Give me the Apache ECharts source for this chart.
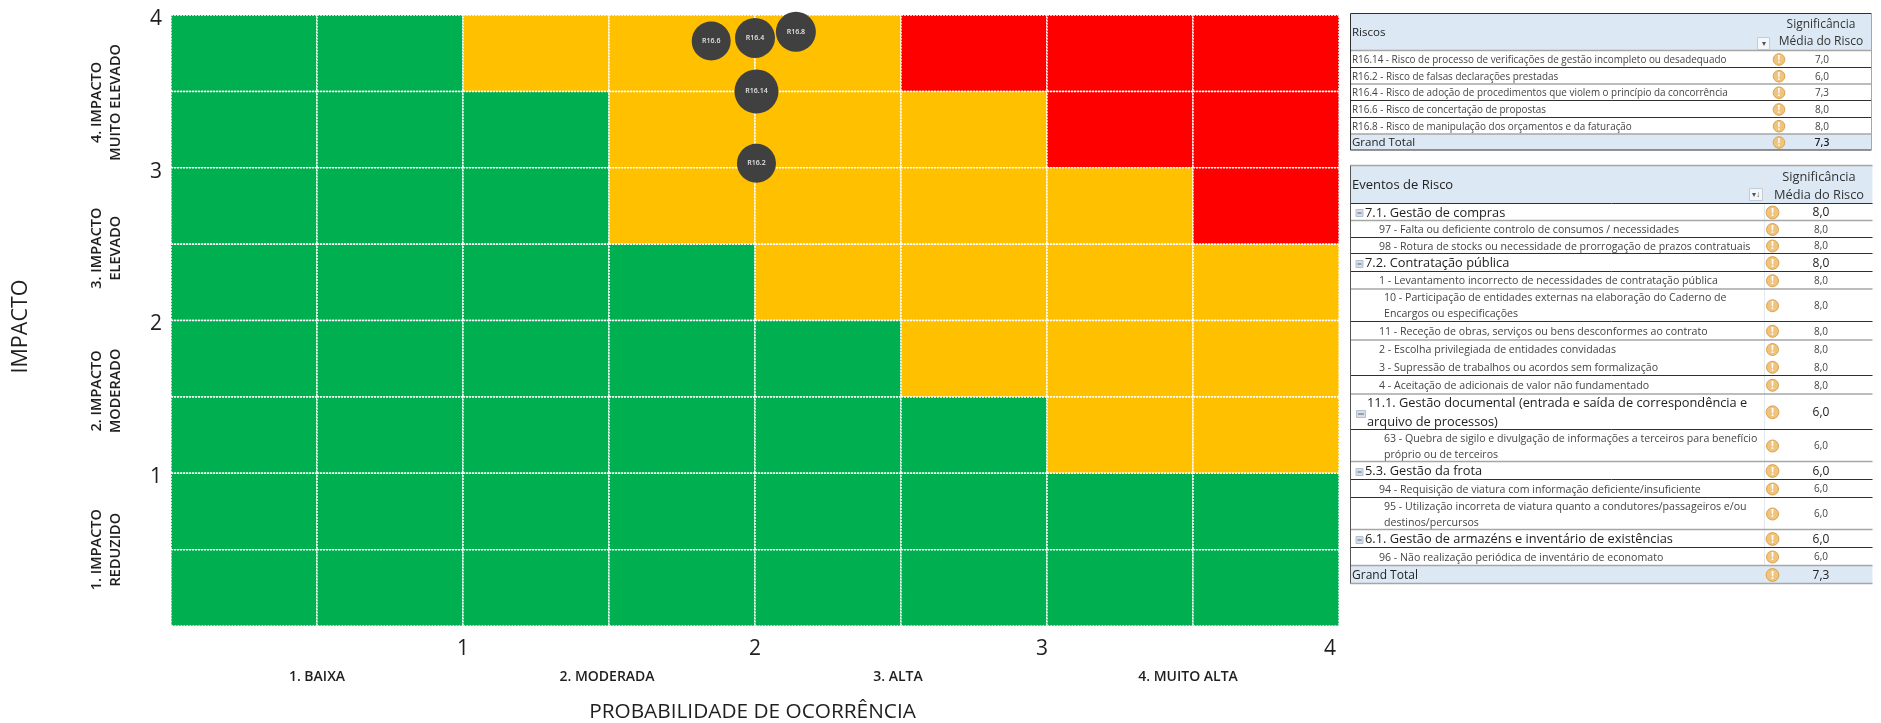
<!DOCTYPE html>
<html>
<head>
<meta charset="utf-8">
<title>Matriz de risco</title>
<script src="https://cdn.jsdelivr.net/npm/echarts@6/dist/echarts.min.js"></script>
<style>
  html, body { margin: 0; padding: 0; background: #fff; }
  #chart { width: 1881px; height: 723px; }
</style>
</head>
<body>
<div id="chart"></div>
<script>
// Risk levels per half-unit cell, from the top row down: 0 low, 1 medium, 2 high
const cellLevels = [
  [0, 0, 1, 1, 1, 2, 2, 2],
  [0, 0, 0, 1, 1, 1, 2, 2],
  [0, 0, 0, 1, 1, 1, 1, 2],
  [0, 0, 0, 0, 1, 1, 1, 1],
  [0, 0, 0, 0, 0, 1, 1, 1],
  [0, 0, 0, 0, 0, 0, 1, 1],
  [0, 0, 0, 0, 0, 0, 0, 0],
  [0, 0, 0, 0, 0, 0, 0, 0]
];
const levelColors = ['#00B050', '#FFC000', '#FF0000'];

// Risks placed on the matrix
const bubbleNames = ['R16.6', 'R16.4', 'R16.8', 'R16.14', 'R16.2'];
const bubbleProbability = [1.85, 2.0, 2.14, 2.005, 2.005];
const bubbleImpact = [3.83, 3.85, 3.89, 3.5, 3.03];
const bubbleWeight = [39, 40, 40, 44, 39];

const probabilityLabels = ['1. BAIXA', '2. MODERADA', '3. ALTA', '4. MUITO ALTA'];
const impactLabels = ['1. IMPACTO\nREDUZIDO', '2. IMPACTO\nMODERADO', '3. IMPACTO\nELEVADO', '4. IMPACTO\nMUITO ELEVADO'];

// Risk summary table
const riskLabels = [
  'R16.14 - Risco de processo de verificações de gestão incompleto ou desadequado',
  'R16.2 - Risco de falsas declarações prestadas',
  'R16.4 - Risco de adoção de procedimentos que violem o princípio da concorrência',
  'R16.6 - Risco de concertação de propostas',
  'R16.8 - Risco de manipulação dos orçamentos e da faturação',
  'Grand Total'
];
const riskValues = [7.0, 6.0, 7.3, 8.0, 8.0, 7.3];

// Risk event table; groups carry the larger type, items are indented
const eventLabels = [
  '7.1. Gestão de compras',
  '97 - Falta ou deficiente controlo de consumos / necessidades',
  '98 - Rotura de stocks ou necessidade de prorrogação de prazos contratuais',
  '7.2. Contratação pública',
  '1 - Levantamento incorrecto de necessidades de contratação pública',
  '10 - Participação de entidades externas na elaboração do Caderno de\nEncargos ou especificações',
  '11 - Receção de obras, serviços ou bens desconformes ao contrato',
  '2 - Escolha privilegiada de entidades convidadas',
  '3 - Supressão de trabalhos ou acordos sem formalização',
  '4 - Aceitação de adicionais de valor não fundamentado',
  '11.1. Gestão documental (entrada e saída de correspondência e\narquivo de processos)',
  '63 - Quebra de sigilo e divulgação de informações a terceiros para benefício\npróprio ou de terceiros',
  '5.3. Gestão da frota',
  '94 - Requisição de viatura com informação deficiente/insuficiente',
  '95 - Utilização incorreta de viatura quanto a condutores/passageiros e/ou\ndestinos/percursos',
  '6.1. Gestão de armazéns e inventário de existências',
  '96 - Não realização periódica de inventário de economato',
  'Grand Total'
];
const eventValues = [8, 8, 8, 8, 8, 8, 8, 8, 8, 8, 6, 6, 6, 6, 6, 6, 6, 7.3];
const eventKinds = ['g', 'i', 'i', 'g', 'i', 'i', 'i', 'i', 'i', 'i', 'g', 'i', 'g', 'i', 'i', 'g', 'i', 't'];

// Table layout
const DARK = '#2f2f2f', GREY = '#a6a6a6', HEAD = '#dce9f5';
const riskEdges = [50.5, 67.5, 84, 100.5, 117.5, 134, 150];
const riskRules = [GREY, DARK, GREY, DARK, DARK, GREY, DARK];
const eventEdges = [203.5, 220.5, 237.5, 253.5, 271.5, 289, 321.5, 340, 358, 375.5, 394, 429.5, 461.5, 479.5, 497.5, 529.5, 547.5, 565.5, 583.5];
const eventRules = [DARK, GREY, DARK, DARK, DARK, GREY, DARK, GREY, null, DARK, GREY, DARK, GREY, DARK, DARK, GREY, DARK, GREY, GREY];

// Extra label padding that slides axis captions off their band centres
const probabilityNudge = [0, 4, 6, 10];
const impactNudge = [[0, 0], [12, 0], [0, 8], [0, 22]];

const fmt = v => v.toFixed(1).replace('.', ',');
const FONT = '"Open Sans", "Noto Sans", sans-serif';

function line(x1, y1, x2, y2, color, w) {
  return { type: 'line', silent: true, shape: { x1, y1, x2, y2 }, style: { stroke: color, lineWidth: w || 1 } };
}
function box(x, y, width, height, fill, stroke) {
  return { type: 'rect', silent: true, shape: { x, y, width, height }, style: { fill, stroke: stroke || null, lineWidth: 1 } };
}
function label(text, x, y, size, color, align, weight) {
  return { type: 'text', silent: true, x, y, style: {
    text, fontSize: size, fontFamily: FONT, fill: color, align: align || 'left',
    verticalAlign: 'middle', fontWeight: weight || 'normal', lineHeight: Math.round(size * 1.5)
  } };
}
function alertIcon(x, y, r) {
  return [
    { type: 'circle', silent: true, shape: { cx: x, cy: y, r }, style: { fill: '#f0c47c', stroke: '#d9a350', lineWidth: 1 } },
    label('!', x, y + 0.5, r * 1.7, '#ffffff', 'center', 'bold')
  ];
}
function filterButton(x, y, w, h, glyph) {
  return [box(x, y, w, h, '#f4f7fb', '#c4ccd6'), label(glyph, x + w / 2, y + h / 2, 8, '#555', 'center')];
}

function riskTable() {
  const left = 1350.5, right = 1871.5, top = 13.5;
  const els = [box(left, top, right - left, riskEdges[0] - top, HEAD)];
  els.push(box(left, riskEdges[5], right - left, riskEdges[6] - riskEdges[5], HEAD));
  els.push(label('Riscos', 1352, 33, 11.5, '#222'));
  els.push(label('Significância', 1821, 25, 12, '#333', 'center'));
  els.push(label('Média do Risco', 1821, 41.5, 12, '#333', 'center'));
  els.push(...filterButton(1757.5, 37.5, 12, 12, '▾'));
  riskLabels.forEach((t, i) => {
    const cy = (riskEdges[i] + riskEdges[i + 1]) / 2 + 1;
    const total = i === riskLabels.length - 1;
    els.push(label(t, 1352, cy, total ? 11.5 : 9.9, total ? '#222' : '#444'));
    els.push(...alertIcon(1779, cy - 0.5, 5.8));
    els.push(label(fmt(riskValues[i]), 1822, cy, total ? 10.5 : 10, total ? '#222' : '#444', 'center', total ? 600 : 'normal'));
  });
  riskRules.forEach((c, i) => els.push(line(left, riskEdges[i], right, riskEdges[i], c, c === GREY ? 1.5 : 1)));
  els.push(line(left, top, right, top, DARK), line(left, top, left, riskEdges[6], DARK), line(right, top, right, riskEdges[6], GREY));
  return els;
}

function eventTable() {
  const left = 1350.5, right = 1872.5, top = 165.5, split = 1764.5;
  const last = eventEdges[eventEdges.length - 1];
  const els = [box(left, top, right - left, eventEdges[0] - top, HEAD)];
  els.push(box(left, eventEdges[17], right - left, last - eventEdges[17], HEAD));
  els.push(line(split, top, split, last, '#e3e8ee'));
  els.push(label('Eventos de Risco', 1352, 185.5, 13, '#222'));
  els.push(label('Significância', 1819, 177, 12.8, '#333', 'center'));
  els.push(label('Média do Risco', 1819, 195, 12.8, '#333', 'center'));
  els.push(...filterButton(1749.5, 188.5, 13, 12, '▾↓'));
  eventLabels.forEach((t, i) => {
    const cy = (eventEdges[i] + eventEdges[i + 1]) / 2 + 1;
    const kind = eventKinds[i];
    const two = t.indexOf('\n') >= 0;
    if (kind === 'g') {
      const bx = two ? 1356 : 1355.5;
      els.push(box(bx + 0.5, Math.round(cy) - 3.5 - (two ? -1 : 0), two ? 9 : 7, 7, '#d5deea', '#b5c0cf'));
      els.push(line(bx + 2, Math.round(cy) + (two ? 1 : 0), bx + (two ? 8 : 6), Math.round(cy) + (two ? 1 : 0), '#5a6675'));
      els.push(label(t, two ? 1367 : 1365, cy, 12.8, '#222', 'left', 500));
    } else if (kind === 'i') {
      els.push(label(t, two ? 1384 : 1379, cy, 10.6, '#444'));
    } else {
      els.push(label(t, 1352, cy, 12, '#222'));
    }
    els.push(...alertIcon(1772.5, cy - 0.5, kind === 'i' ? 6 : 6.4));
    els.push(label(fmt(eventValues[i]), 1821, cy, kind === 'i' ? 10 : 12, kind === 'i' ? '#444' : '#222', 'center'));
  });
  eventRules.forEach((c, i) => { if (c) els.push(line(left, eventEdges[i], right, eventEdges[i], c, c === GREY ? 1.5 : 1)); });
  els.push(line(left, top, right, top, GREY, 1.5), line(left, top, left, last, '#555'));
  return els;
}

// Flatten the level matrix into one record per cell: [x0, y0, level]
const STEP = 0.5;
const cells = [];
cellLevels.forEach((row, r) => row.forEach((level, c) => {
  cells.push([c * STEP, 4 - (r + 1) * STEP, level]);
}));

const chart = echarts.init(document.getElementById('chart'), null, { renderer: 'canvas' });
const tickStyle = { fontSize: 21, color: '#1f1f1f', fontFamily: FONT };

chart.setOption({
  animation: false,
  backgroundColor: '#ffffff',
  textStyle: { fontFamily: FONT },
  grid: { left: 171, top: 15, width: 1168, height: 611, outerBoundsMode: 'none' },
  xAxis: [
    {
      type: 'value', min: 0, max: 4, interval: 1, position: 'bottom',
      name: 'PROBABILIDADE DE OCORRÊNCIA', nameLocation: 'middle', nameGap: 76,
      nameTextStyle: { fontSize: 20.8, color: '#1f1f1f', fontFamily: FONT, padding: [0, 5, 0, 0] },
      axisLine: { show: false }, axisTick: { show: false }, splitLine: { show: false },
      axisLabel: {
        ...tickStyle, margin: 13,
        formatter: v => (v === 0 ? '' : v === 3 || v === 4 ? `{s${v}|${v}}` : String(v)),
        rich: {
          s3: { ...tickStyle, padding: [0, 10, 0, 0] },
          s4: { ...tickStyle, padding: [0, 18, 0, 0] }
        }
      }
    },
    {
      type: 'category', position: 'bottom', offset: 44,
      data: probabilityLabels.map((value, i) => ({ value, textStyle: { padding: [0, probabilityNudge[i], 0, 0] } })),
      axisLine: { show: false }, axisTick: { show: false }, splitLine: { show: false },
      axisLabel: { interval: 0, hideOverlap: false, fontSize: 14, fontWeight: 600, color: '#1f1f1f', margin: 0, fontFamily: FONT }
    }
  ],
  yAxis: [
    {
      type: 'value', min: 0, max: 4, interval: 1, position: 'left',
      name: 'IMPACTO', nameLocation: 'middle', nameGap: 139, nameRotate: 90,
      nameTextStyle: { fontSize: 21.5, color: '#1f1f1f', fontFamily: FONT, padding: [0, 12, 0, 0] },
      axisLine: { show: false }, axisTick: { show: false }, splitLine: { show: false },
      axisLabel: {
        ...tickStyle, margin: 9,
        formatter: v => (v === 0 ? '' : `{t|${v}}`),
        rich: { t: { ...tickStyle, padding: [8, 0, 0, 0] } }
      }
    },
    {
      type: 'category', position: 'left', offset: 46,
      data: impactLabels.map((value, i) => ({ value, textStyle: { padding: [0, impactNudge[i][1], 0, impactNudge[i][0]] } })),
      axisLine: { show: false }, axisTick: { show: false }, splitLine: { show: false },
      axisLabel: { interval: 0, hideOverlap: false, rotate: 90, fontSize: 14.5, fontWeight: 600, lineHeight: 19, color: '#1f1f1f', margin: 0, align: 'center', verticalAlign: 'middle', fontFamily: FONT }
    }
  ],
  series: [
    {
      type: 'custom',
      coordinateSystem: 'cartesian2d',
      xAxisIndex: 0, yAxisIndex: 0,
      data: cells,
      silent: true,
      encode: { x: 0, y: 1 },
      renderItem(params, api) {
        const a = api.coord([api.value(0), api.value(1) + STEP]);
        const b = api.coord([api.value(0) + STEP, api.value(1)]);
        return {
          type: 'rect',
          shape: { x: a[0], y: a[1], width: b[0] - a[0], height: b[1] - a[1] },
          style: { fill: levelColors[api.value(2)], stroke: '#ffffff', lineWidth: 1.5, lineDash: [2, 1] }
        };
      }
    },
    {
      type: 'scatter',
      xAxisIndex: 0, yAxisIndex: 0,
      z: 5,
      clip: false,
      data: bubbleNames.map((n, i) => ({ name: n, value: [bubbleProbability[i], bubbleImpact[i], bubbleWeight[i]] })),
      symbol: 'circle',
      symbolSize: v => v[2],
      itemStyle: { color: '#404040', opacity: 1 },
      label: { show: true, position: 'inside', formatter: '{b}', color: '#e6e6e6', fontSize: 7, fontWeight: 600, fontFamily: FONT }
    }
  ],
  graphic: { elements: riskTable().concat(eventTable()) }
});
</script>
</body>
</html>
